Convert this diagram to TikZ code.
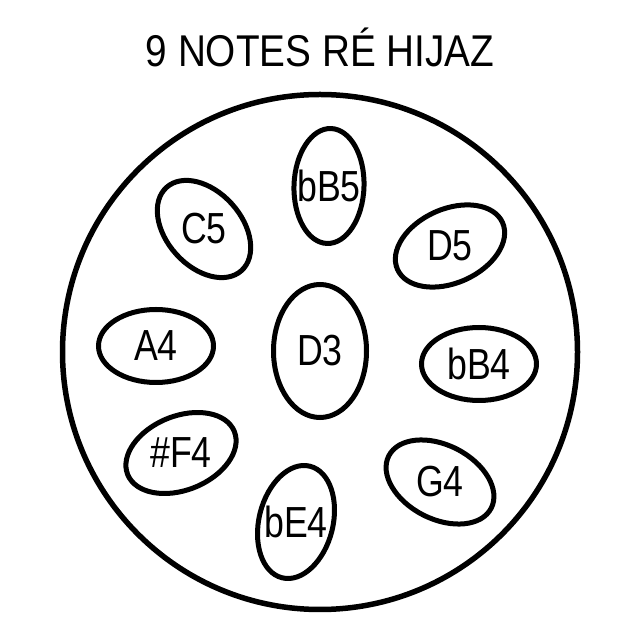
\documentclass[tikz,border=0pt]{standalone}
\usepackage{fontspec}
\setmainfont{Liberation Sans}[FakeStretch=0.82]
\newfontfamily\titlefont{Liberation Sans}[FakeStretch=0.87]
\usetikzlibrary{shapes.geometric}
\tikzset{x=1pt, y=1pt,
         tone/.style={draw, ellipse, line width=5pt, inner sep=0pt},
         note/.style={font=\fontsize{43.5}{44}\selectfont, inner sep=0pt},
         shell/.style={draw, circle, line width=5.5pt, inner sep=0pt, minimum size=515pt} }

\begin{document}
\begin{tikzpicture}
    \useasboundingbox (0,0) rectangle (640,640);
    \node[anchor=base, font=\titlefont\fontsize{44.5}{45}\selectfont] (title) at (320,573) {9 NOTES RÉ HIJAZ};
    \node[shell] (drum) at (320,288) {};
    % tone fields
    \node[tone, minimum width=93pt, minimum height=133pt] (d3) at (320,289) {};
    \node[tone, minimum width=115pt, minimum height=70pt, rotate=88] (bb5) at (329,454) {};
    \node[tone, minimum width=112pt, minimum height=75pt, rotate=-48] (c5) at (204,411) {};
    \node[tone, minimum width=115pt, minimum height=74pt, rotate=24] (d5) at (450,394) {};
    \node[tone, minimum width=115pt, minimum height=73pt] (a4) at (156,294) {};
    \node[tone, minimum width=115pt, minimum height=73pt] (bb4) at (479,276) {};
    \node[tone, minimum width=115pt, minimum height=74pt, rotate=22] (f4) at (181,187) {};
    \node[tone, minimum width=115pt, minimum height=74pt, rotate=76] (be4) at (296,118) {};
    \node[tone, minimum width=115pt, minimum height=74pt, rotate=-27] (g4) at (440,158) {};
    % note names
    \node[note] at (d3) {D3};
    \node[note] at (bb5) {bB5};
    \node[note] at (c5) {C5};
    \node[note] at (d5) {D5};
    \node[note] at (a4) {A4};
    \node[note] at (bb4) {bB4};
    \node[note] at (f4) {\#F4};
    \node[note] at (be4) {bE4};
    \node[note] at (g4) {G4};
\end{tikzpicture}
\end{document}
